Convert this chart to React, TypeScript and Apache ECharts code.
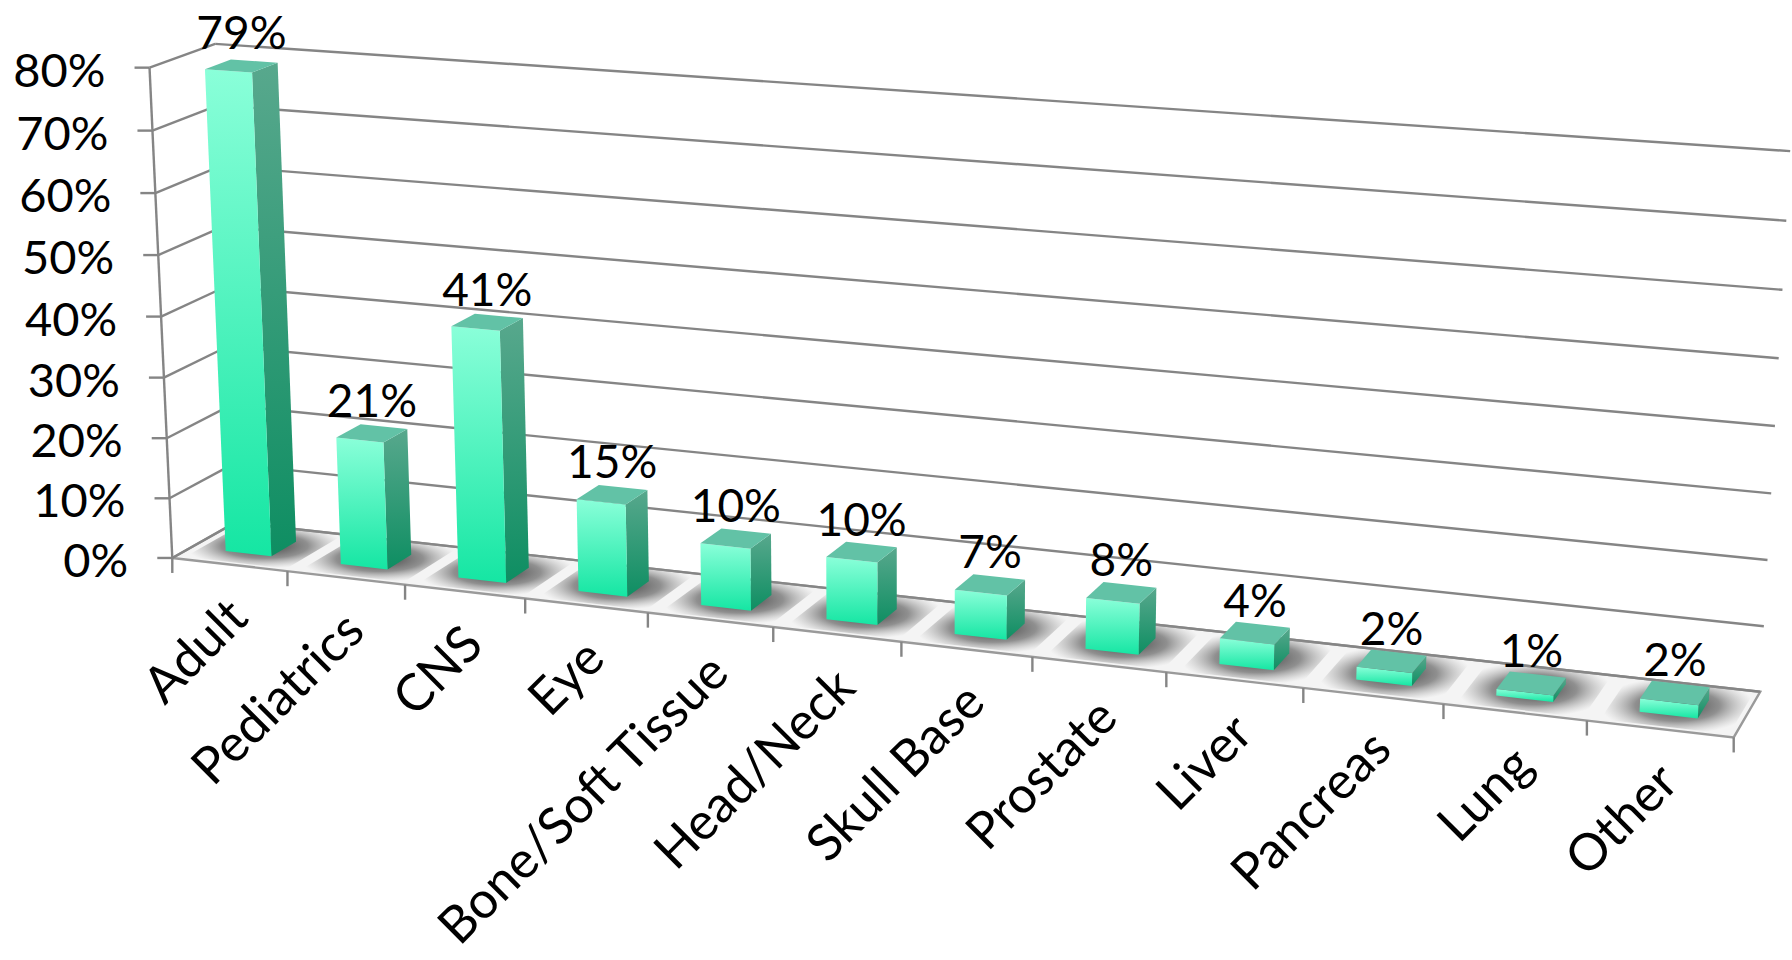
import React, { useEffect, useRef } from 'react';
import * as echarts from 'echarts';

// ---------------- data ----------------
const categories = [
  'Adult', 'Pediatrics', 'CNS', 'Eye', 'Bone/Soft Tissue', 'Head/Neck',
  'Skull Base', 'Prostate', 'Liver', 'Pancreas', 'Lung', 'Other',
];
const shares = [79, 21, 41, 15, 10, 10, 7, 8, 4, 2, 1, 2];
const valueTicks = [0, 10, 20, 30, 40, 50, 60, 70, 80];
const tickLabels = valueTicks.map((t) => `${t}%`);
const dataLabels = shares.map((s) => `${s}%`);

// ---------------- perspective of the 3D frame ----------------
// u: along the category axis (0..1), v: along the value axis (0..1), w: depth (0..1) -> page px
const CALIBRATION: number[][] = [
  [0, 0, 0, 173, 557], [1 / 12, 0, 0, 288, 573], [2 / 12, 0, 0, 406, 587],
  [4 / 12, 0, 0, 648, 613], [5 / 12, 0, 0, 773, 627], [6 / 12, 0, 0, 901, 642],
  [7 / 12, 0, 0, 1032, 657], [8 / 12, 0, 0, 1166, 671], [9 / 12, 0, 0, 1303, 688],
  [10 / 12, 0, 0, 1443, 705], [11 / 12, 0, 0, 1587, 721], [1, 0, 0, 1734, 737],
  [0, 0.25, 0, 168, 437], [0, 0.5, 0, 162, 315], [0, 0.75, 0, 155, 193], [0, 1, 0, 147, 67],
  [0, 0, 1, 233, 522], [0, 1, 1, 217, 45],
  [1, 0, 1, 1760, 691], [1, 0.25, 1, 1768, 559], [1, 0.5, 1, 1776, 426],
  [1, 0.75, 1, 1782, 290], [1, 1, 1, 1790, 152],
];

function solveLinear(M: number[][], r: number[]): number[] {
  const n = r.length;
  const A = M.map((row, i) => [...row, r[i]]);
  for (let c = 0; c < n; c++) {
    let piv = c;
    for (let i = c + 1; i < n; i++) if (Math.abs(A[i][c]) > Math.abs(A[piv][c])) piv = i;
    const tmp = A[c]; A[c] = A[piv]; A[piv] = tmp;
    for (let i = 0; i < n; i++) {
      if (i === c) continue;
      const f = A[i][c] / A[c][c];
      for (let j = c; j <= n; j++) A[i][j] -= f * A[c][j];
    }
  }
  return A.map((row, i) => row[n] / A[i][i]);
}

function fitProjection(cal: number[][]) {
  const S = 1000;
  const rows: number[][] = [];
  const rhs: number[] = [];
  for (const [u, v, w, x0, y0] of cal) {
    const x = x0 / S, y = y0 / S;
    rows.push([u, v, w, 1, 0, 0, 0, 0, -x * u, -x * v, -x * w]); rhs.push(x);
    rows.push([0, 0, 0, 0, u, v, w, 1, -y * u, -y * v, -y * w]); rhs.push(y);
  }
  const n = 11;
  const M = Array.from({ length: n }, () => new Array(n).fill(0));
  const r = new Array(n).fill(0);
  rows.forEach((row, k) => {
    for (let i = 0; i < n; i++) {
      r[i] += row[i] * rhs[k];
      for (let j = 0; j < n; j++) M[i][j] += row[i] * row[j];
    }
  });
  const p = solveLinear(M, r);
  return (u: number, v: number, w: number): number[] => {
    const d = p[8] * u + p[9] * v + p[10] * w + 1;
    return [
      (S * (p[0] * u + p[1] * v + p[2] * w + p[3])) / d,
      (S * (p[4] * u + p[5] * v + p[6] * w + p[7])) / d,
    ];
  };
}

const P = fitProjection(CALIBRATION);

const FONT = 'Lato, "Open Sans", sans-serif';
const GRID_COLOR = '#858585';
const BAR_HALF = 0.2; // of a category slot
const BAR_W0 = 0.3;
const BAR_W1 = 0.7;

function toUV(params: any, api: any, idx: number, val: number) {
  const cs = params.coordSys;
  const pt = api.coord([idx, val]);
  const size = api.size([1, 0]);
  return {
    uc: (pt[0] - cs.x) / cs.width,
    slot: size[0] / cs.width,
    v: (cs.y + cs.height - pt[1]) / cs.height,
  };
}

function line(a: number[], b: number[], color = GRID_COLOR, width = 2.4) {
  return {
    type: 'line',
    shape: { x1: a[0], y1: a[1], x2: b[0], y2: b[1] },
    style: { stroke: color, lineWidth: width },
  };
}

export default function App() {
  const ref = useRef<HTMLDivElement>(null);

  useEffect(() => {
    document.body.style.margin = '0';
    if (!ref.current) return;
    const chart = echarts.init(ref.current, undefined, { renderer: 'svg' });

    const floorSeries = {
      type: 'custom', z: 1, silent: true,
      encode: { x: 0, y: 1 },
      data: [[0, 0]],
      renderItem: () => {
        const a = P(0, 0, 0), b = P(1, 0, 0), c = P(1, 0, 1), d = P(0, 0, 1);
        return {
          type: 'polygon',
          shape: { points: [a, b, c, d] },
          style: { fill: '#f4f4f4', stroke: '#9a9a9a', lineWidth: 2.4 },
        };
      },
    };

    const wallSeries = {
      type: 'custom', z: 2, silent: true,
      encode: { x: 0, y: 1 },
      data: valueTicks.map((t, i) => [0, t, i]),
      renderItem: (params: any, api: any) => {
        const t = api.value(1);
        const i = api.value(2);
        const { v } = toUV(params, api, 0, t);
        const A = P(0, v, 0);
        const B = P(0, v, 1);
        const C = P(1, v, 1);
        const children: any[] = [
          line([A[0] - 15, A[1]], A),
          line(A, B),
          line(B, C),
          {
            type: 'text',
            x: A[0] - 44,
            y: A[1] + 1,
            style: {
              text: tickLabels[i], fill: '#000', fontSize: 47, fontFamily: FONT,
              align: 'right', verticalAlign: 'middle', textAlign: 'right', textVerticalAlign: 'middle',
            },
          },
        ];
        if (i === valueTicks.length - 1) children.push(line(P(0, 0, 0), A));
        return { type: 'group', children };
      },
    };

    const categorySeries = {
      type: 'custom', z: 2, silent: true,
      encode: { x: 0, y: 1 },
      data: categories.map((c, i) => [i, 0]),
      renderItem: (params: any, api: any) => {
        const idx = api.value(0);
        const { uc, slot } = toUV(params, api, idx, 0);
        const children: any[] = [];
        const L = P(uc - slot / 2, 0, 0);
        children.push(line(L, [L[0], L[1] + 15]));
        if (idx === categories.length - 1) {
          const R = P(uc + slot / 2, 0, 0);
          children.push(line(R, [R[0], R[1] + 15]));
        }
        const M = P(uc, 0, 0);
        children.push({
          type: 'text',
          x: M[0] + 7,
          y: M[1] + 42,
          rotation: Math.PI / 4,
          style: {
            text: categories[idx], fill: '#000', fontSize: 51, fontFamily: FONT,
            align: 'right', verticalAlign: 'middle', textAlign: 'right', textVerticalAlign: 'middle',
          },
        });
        return { type: 'group', children };
      },
    };

    const shadowSeries = {
      type: 'custom', z: 3, silent: true,
      encode: { x: 0, y: 1 },
      data: shares.map((s, i) => [i, s]),
      renderItem: (params: any, api: any) => {
        const idx = api.value(0);
        const { uc, slot } = toUV(params, api, idx, 0);
        const u0 = uc - 0.42 * slot, u1 = uc + 0.46 * slot;
        const pts = [P(u0, 0, 0.06), P(u1, 0, 0.06), P(u1, 0, 1), P(u0, 0, 1)];
        return {
          type: 'polygon',
          shape: { points: pts },
          style: {
            fill: {
              type: 'radial', x: 0.5, y: 0.5, r: 0.5,
              colorStops: [
                { offset: 0, color: 'rgba(60,60,60,1)' },
                { offset: 0.55, color: 'rgba(110,110,110,0.75)' },
                { offset: 1, color: 'rgba(170,170,170,0)' },
              ],
            },
          },
        };
      },
    };

    const barSeries = {
      type: 'custom', z: 4, silent: true,
      encode: { x: 0, y: 1 },
      data: shares.map((s, i) => [i, s]),
      renderItem: (params: any, api: any) => {
        const idx = api.value(0);
        const val = api.value(1);
        const { uc, slot, v } = toUV(params, api, idx, val);
        const u0 = uc - BAR_HALF * slot, u1 = uc + BAR_HALF * slot;
        const fb0 = P(u0, 0, BAR_W0), fb1 = P(u1, 0, BAR_W0);
        const ft0 = P(u0, v, BAR_W0), ft1 = P(u1, v, BAR_W0);
        const bb1 = P(u1, 0, BAR_W1), bt1 = P(u1, v, BAR_W1), bt0 = P(u0, v, BAR_W1);
        const top = P(uc, v, 0.5);
        return {
          type: 'group',
          children: [
            {
              type: 'polygon',
              shape: { points: [fb1, bb1, bt1, ft1] },
              style: {
                fill: {
                  type: 'linear', x: 0, y: 0, x2: 0, y2: 1,
                  colorStops: [
                    { offset: 0, color: '#58a88d' },
                    { offset: 1, color: '#0e8e62' },
                  ],
                },
              },
            },
            {
              type: 'polygon',
              shape: { points: [fb0, fb1, ft1, ft0] },
              style: {
                fill: {
                  type: 'linear', x: 0, y: 0, x2: 0, y2: 1,
                  colorStops: [
                    { offset: 0, color: '#8affd9' },
                    { offset: 1, color: '#15e6a3' },
                  ],
                },
              },
            },
            {
              type: 'polygon',
              shape: { points: [ft0, ft1, bt1, bt0] },
              style: { fill: '#62c2a6' },
            },
            {
              type: 'text',
              x: top[0],
              y: top[1] - 34,
              style: {
                text: dataLabels[idx], fill: '#000', fontSize: 46, fontFamily: FONT,
                align: 'center', verticalAlign: 'middle', textAlign: 'center', textVerticalAlign: 'middle',
              },
            },
          ],
        };
      },
    };

    chart.setOption({
      animation: false,
      backgroundColor: '#ffffff',
      grid: { left: 0, right: 0, top: 0, bottom: 0, containLabel: false },
      xAxis: { type: 'category', data: categories, show: false },
      yAxis: { type: 'value', min: 0, max: 80, interval: 10, show: false },
      series: [floorSeries, wallSeries, categorySeries, shadowSeries, barSeries],
    });

    return () => chart.dispose();
  }, []);

  return <div ref={ref} style={{ width: 1792, height: 960 }} />;
}
